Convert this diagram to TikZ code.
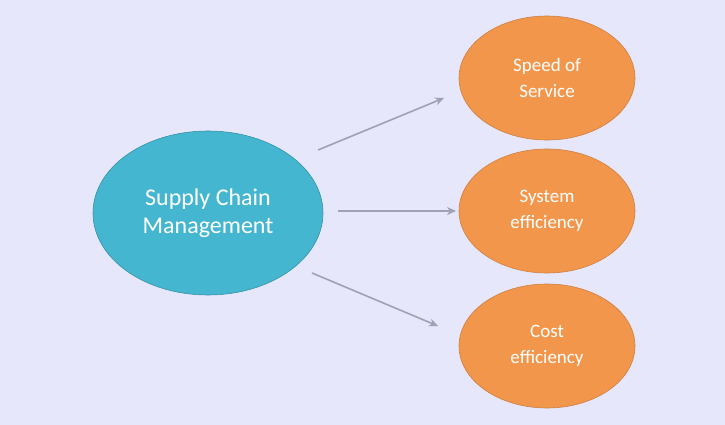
\documentclass[tikz,border=0pt]{standalone}
\usepackage{fontspec}
\setmainfont{Carlito}
\usetikzlibrary{shapes.geometric,arrows.meta}
\definecolor{bg}{HTML}{E6E7FA}
\definecolor{teal}{HTML}{45B6D0}
\definecolor{orng}{HTML}{F2964C}
\definecolor{arr}{HTML}{9EA2B2}
\begin{document}
\begin{tikzpicture}[x=1pt,y=-1pt,
  big/.style={ellipse,fill=teal,draw=teal!80!black,line width=0.6pt,minimum width=230pt,minimum height=164pt,text=white,font=\fontsize{24}{28}\selectfont,align=center},
  small/.style={ellipse,fill=orng,draw=orng!85!black,line width=0.6pt,minimum width=176pt,minimum height=124pt,text=white,font=\fontsize{19}{26}\selectfont,align=center},
  conn/.style={arr,line width=1.6pt,-{Stealth[length=9pt,width=8pt]}}]
\fill[bg] (0,0) rectangle (725,425);
\useasboundingbox (0,0) rectangle (725,425);
\node[big] (scm) at (208,213) {Supply Chain\\Management};
\node[small] (s1) at (547,78) {Speed of\\Service};
\node[small] (s2) at (547,211) {System\\efficiency};
\node[small] (s3) at (547,346) {Cost\\efficiency};
\coordinate (a1) at (318,150); \coordinate (b1) at (444,98);
\coordinate (a2) at (338,211); \coordinate (b2) at (456,211);
\coordinate (a3) at (312,273); \coordinate (b3) at (438,326);
\draw[conn] (a1) -- (b1);
\draw[conn] (a2) -- (b2);
\draw[conn] (a3) -- (b3);
\end{tikzpicture}
\end{document}
